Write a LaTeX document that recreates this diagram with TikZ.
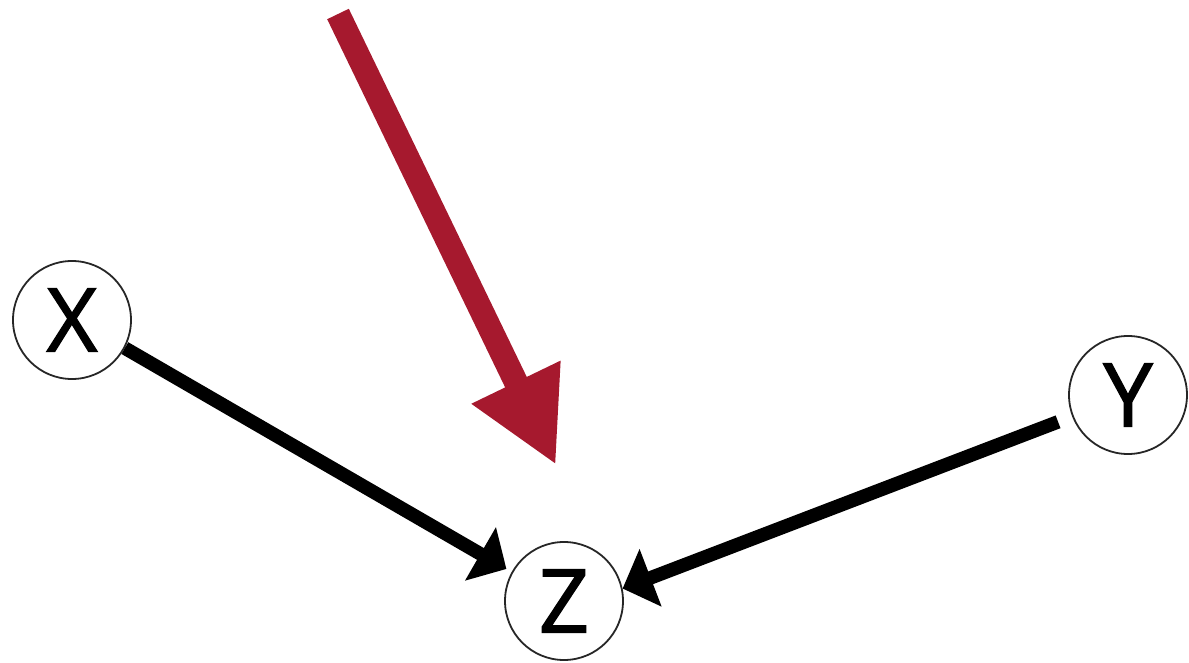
\documentclass[tikz,border=0pt]{standalone}
\usepackage{fontspec}
\setmainfont{Open Sans}
\newfontfamily\letterfont{Open Sans}[FakeBold=1.6]
\usetikzlibrary{arrows.meta}
\definecolor{arrowred}{RGB}{166,25,46}
\tikzset{
  var/.style={circle, draw=black!85, line width=0.9pt, fill=white, minimum size=59pt, inner sep=0pt,
    font=\letterfont\fontsize{44}{44}\selectfont},
  causal/.style={line width=6.8pt, black, -{Triangle[length=15pt, width=30pt]}},
  intervene/.style={line width=12pt, arrowred, -{Triangle[length=46pt, width=46pt]}}
}
\begin{document}
\begin{tikzpicture}[x=0.5pt, y=-0.5pt]
  \useasboundingbox (0,0) rectangle (1189,663);
  \node[var] (X) at (72,320) {X};
  \node[var] (Y) at (1128,395) {Y};
  \node[var] (Z) at (564,601) {Z};
  \draw[causal, shorten >=3pt] (X.-28.6) -- (Z.151.5);
  \draw[causal, shorten <=7.5pt] (Y.201) -- (Z.12);
  \coordinate (rs) at (338,14);
  \coordinate (rt) at (556,465);
  \draw[intervene] (rs) -- (rt);
\end{tikzpicture}
\end{document}
